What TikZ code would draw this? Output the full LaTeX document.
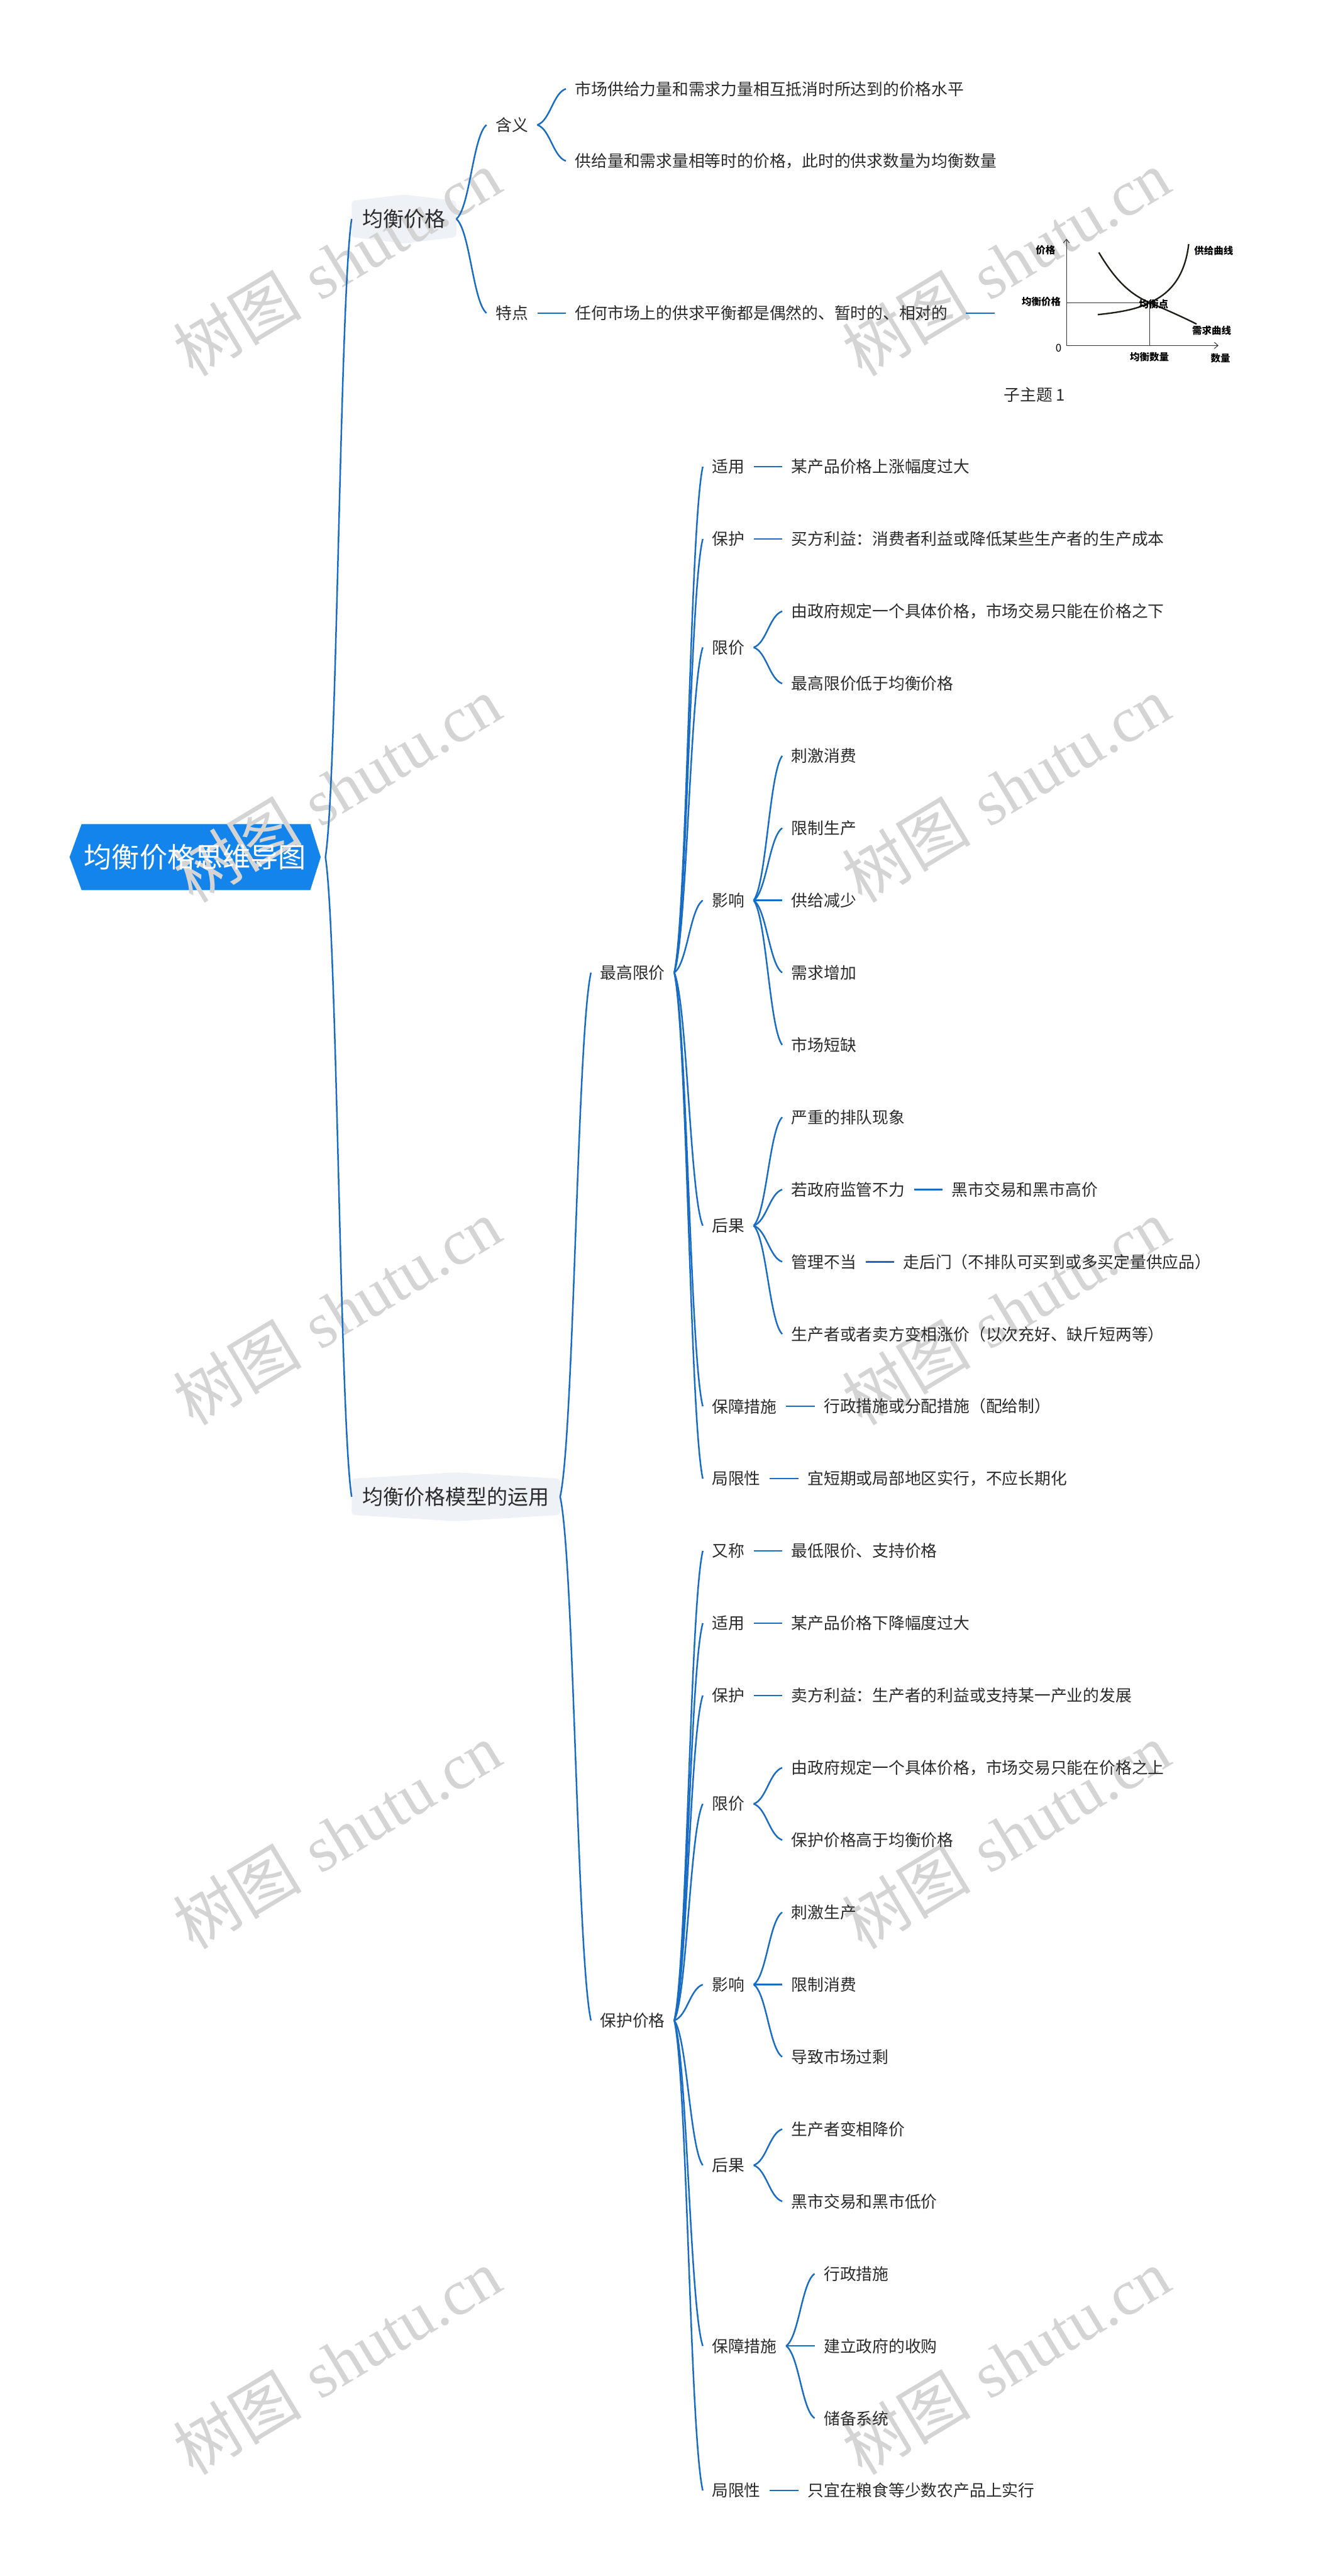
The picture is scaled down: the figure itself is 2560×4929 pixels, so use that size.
\documentclass[tikz,border=0pt]{standalone}
\usepackage{fontspec}
\newfontfamily\cjk{Noto Sans CJK SC}
\newfontfamily\wmserif{Liberation Serif}
\usetikzlibrary{calc,backgrounds,arrows.meta}
\definecolor{linkc}{HTML}{186CC4}
\definecolor{rootc}{HTML}{1284EC}
\definecolor{lonec}{HTML}{EEF1F5}
\definecolor{txtc}{HTML}{2B2B2B}
\definecolor{wmc}{HTML}{D4D4D4}
\definecolor{curvec}{HTML}{1E1E14}
\tikzset{
 link/.style={draw=linkc, line width=0.85pt},
 tn/.style={anchor=west, inner xsep=0.17cm, inner ysep=0.05cm, font=\cjk\fontsize{8.82}{10}\selectfont, text=txtc},
 lone/.style={anchor=west, inner xsep=0.2cm, inner ysep=0pt, minimum height=0.68cm, font=\cjk\fontsize{11.3}{13}\selectfont, text=txtc},
 gl/.style={font=\cjk\bfseries\fontsize{5.3}{6}\selectfont, text=black, inner sep=0pt},
 wm/.style={font=\fontsize{35}{40}\selectfont, text=wmc, rotate=31, inner sep=0pt},
 axisline/.style={draw=black!80, line width=0.35pt},
 curveline/.style={draw=curvec, line width=0.8pt},
}
\newcommand{\mmlink}[2]{\draw[link] let \p1=(#1), \p2=(#2) in (\p1) .. controls ({\x1+0.45*(\x2-\x1)},{\y1+0.12*(\y2-\y1)}) and ({\x2-0.45*(\x2-\x1)},{\y2-0.12*(\y2-\y1)}) .. (\p2);}
\newcommand{\mmline}[2]{\draw[link] (#1) -- (#2);}
\begin{document}
\begin{tikzpicture}[x=0.01cm,y=-0.01cm]
\useasboundingbox (0,0) rectangle (2560,4929);
\begin{pgfonlayer}{background}
\fill[white] (0,0) rectangle (2560,4929);
\end{pgfonlayer}

% watermarks
\foreach \wx/\wy [count=\i] in {645/503,1925/503,645/1510,1925/1510,645/2510,1925/2510,645/3513,1925/3513,645/4519,1925/4519}{
  \node[wm] (wm\i) at (\wx,\wy) {{\cjk 树图} {\wmserif shutu.cn}};
}

% root
\node[font=\cjk\fontsize{15.1}{17}\selectfont, text=white, minimum width=4.79cm, minimum height=1.25cm, inner sep=0pt] (root) at (373.5,1640) {均衡价格思维导图};
\begin{pgfonlayer}{background}
\fill[rootc] ([xshift=0.23cm]root.north west) -- ([xshift=-0.2cm]root.north east) -- (root.east) -- ([xshift=-0.2cm]root.south east) -- ([xshift=0.23cm]root.south west) -- (root.west) -- cycle;
\end{pgfonlayer}
\coordinate (rootP) at ([xshift=0.09cm]root.east);

% level 1
\node[lone] (l1a) at (673,419) {均衡价格};
\node[lone] (l1b) at (673,2864) {均衡价格模型的运用};
\begin{pgfonlayer}{background}
\foreach \n in {l1a,l1b}{
\fill[lonec, rounded corners=0.06cm] (\n.north west) -- ([yshift=0.12cm]\n.north) -- (\n.north east) -- (\n.south east) -- ([yshift=-0.12cm]\n.south) -- (\n.south west) -- cycle;
}
\end{pgfonlayer}
\mmlink{rootP}{l1a.west}
\mmlink{rootP}{l1b.west}

% top branch
\node[tn] (hy) at (931,239) {含义};
\node[tn] (td) at (931,599) {特点};
\node[tn] (h1) at (1083,170) {市场供给力量和需求力量相互抵消时所达到的价格水平};
\node[tn] (h2) at (1083,308) {供给量和需求量相等时的价格，此时的供求数量为均衡数量};
\node[tn] (t1) at (1083,599) {任何市场上的供求平衡都是偶然的、暂时的、相对的};
\mmlink{l1a.east}{hy.west}
\mmlink{l1a.east}{td.west}
\mmlink{hy.east}{h1.west}
\mmlink{hy.east}{h2.west}
\mmline{td.east}{t1.west}
\node[anchor=west, minimum width=4.6cm, minimum height=2.5cm, inner sep=0pt] (img) at (1904,599) {};
\mmline{[xshift=0.16cm]t1.east}{img.west}

% graph
\draw[axisline, -{Straight Barb[length=0.07cm,width=0.12cm]}] (2041,661) -- (2041,457);
\draw[axisline, -{Straight Barb[length=0.07cm,width=0.12cm]}] (2041,661) -- (2332,661);
\draw[axisline] (2041,579) -- (2200,579) -- (2200,661);
\draw[curveline] (2103,483) .. controls (2135,537) and (2163,563) .. (2200,579) .. controls (2235,594) and (2262,606) .. (2290,620);
\draw[curveline] (2101,602) .. controls (2150,597) and (2180,590) .. (2200,579) .. controls (2240,562) and (2268,528) .. (2275,467);
\node[gl] (gpr) at (2001,478) {价格};
\node[gl] (geqp) at (1993,577) {均衡价格};
\node[font=\cjk\fontsize{5.8}{7}\selectfont, text=black, inner sep=0pt] (g0) at (2026,666) {0};
\node[gl] (geqq) at (2200,683) {均衡数量};
\node[gl] (gq) at (2336,685) {数量};
\node[gl] (gs) at (2323,480) {供给曲线};
\node[gl] (gd) at (2319,633) {需求曲线};
\node[gl] (ge) at (2208,582) {均衡点};
\node[tn, anchor=center, inner xsep=0pt] (sub1) at (1980,755) {子主题 1};

% second branch
\node[tn] (zg) at (1131,1861) {最高限价};
\node[tn] (bj) at (1131,3866) {保护价格};
\mmlink{l1b.east}{zg.west}
\mmlink{l1b.east}{bj.west}

% --- 最高限价 children
\node[tn] (a1) at (1345,893) {适用};
\node[tn] (a2) at (1345,1031.3) {保护};
\node[tn] (a3) at (1345,1238.75) {限价};
\node[tn] (a4) at (1345,1722.8) {影响};
\node[tn] (a5) at (1345,2345.15) {后果};
\node[tn] (a6) at (1345,2690.9) {保障措施};
\node[tn] (a7) at (1345,2829.2) {局限性};
\foreach \c in {a1,a2,a3,a4,a5,a6,a7}{\mmlink{zg.east}{\c.west}}

\node[tn] (a1c) at (1497,893) {某产品价格上涨幅度过大};
\mmline{a1.east}{a1c.west}
\node[tn] (a2c) at (1497,1031.3) {买方利益：消费者利益或降低某些生产者的生产成本};
\mmline{a2.east}{a2c.west}
\node[tn] (a3c1) at (1497,1169.6) {由政府规定一个具体价格，市场交易只能在价格之下};
\node[tn] (a3c2) at (1497,1307.9) {最高限价低于均衡价格};
\mmlink{a3.east}{a3c1.west}
\mmlink{a3.east}{a3c2.west}
\node[tn] (a4c1) at (1497,1446.2) {刺激消费};
\node[tn] (a4c2) at (1497,1584.5) {限制生产};
\node[tn] (a4c3) at (1497,1722.8) {供给减少};
\node[tn] (a4c4) at (1497,1861.1) {需求增加};
\node[tn] (a4c5) at (1497,1999.4) {市场短缺};
\foreach \c in {a4c1,a4c2,a4c3,a4c4,a4c5}{\mmlink{a4.east}{\c.west}}
\node[tn] (a5c1) at (1497,2137.7) {严重的排队现象};
\node[tn] (a5c2) at (1497,2276) {若政府监管不力};
\node[tn] (a5c3) at (1497,2414.3) {管理不当};
\node[tn] (a5c4) at (1497,2552.6) {生产者或者卖方变相涨价（以次充好、缺斤短两等）};
\foreach \c in {a5c1,a5c2,a5c3,a5c4}{\mmlink{a5.east}{\c.west}}
\node[tn] (a5c2c) at (1804,2276) {黑市交易和黑市高价};
\mmline{a5c2.east}{a5c2c.west}
\node[tn] (a5c3c) at (1711,2414.3) {走后门（不排队可买到或多买定量供应品）};
\mmline{a5c3.east}{a5c3c.west}
\node[tn] (a6c) at (1559,2690.9) {行政措施或分配措施（配给制）};
\mmline{a6.east}{a6c.west}
\node[tn] (a7c) at (1528,2829.2) {宜短期或局部地区实行，不应长期化};
\mmline{a7.east}{a7c.west}

% --- 保护价格 children
\node[tn] (b0) at (1345,2967.5) {又称};
\node[tn] (b1) at (1345,3105.8) {适用};
\node[tn] (b2) at (1345,3244.1) {保护};
\node[tn] (b3) at (1345,3451.55) {限价};
\node[tn] (b4) at (1345,3797.3) {影响};
\node[tn] (b5) at (1345,4143.05) {后果};
\node[tn] (b6) at (1345,4488.8) {保障措施};
\node[tn] (b7) at (1345,4765.4) {局限性};
\foreach \c in {b0,b1,b2,b3,b4,b5,b6,b7}{\mmlink{bj.east}{\c.west}}

\node[tn] (b0c) at (1497,2967.5) {最低限价、支持价格};
\mmline{b0.east}{b0c.west}
\node[tn] (b1c) at (1497,3105.8) {某产品价格下降幅度过大};
\mmline{b1.east}{b1c.west}
\node[tn] (b2c) at (1497,3244.1) {卖方利益：生产者的利益或支持某一产业的发展};
\mmline{b2.east}{b2c.west}
\node[tn] (b3c1) at (1497,3382.4) {由政府规定一个具体价格，市场交易只能在价格之上};
\node[tn] (b3c2) at (1497,3520.7) {保护价格高于均衡价格};
\mmlink{b3.east}{b3c1.west}
\mmlink{b3.east}{b3c2.west}
\node[tn] (b4c1) at (1497,3659) {刺激生产};
\node[tn] (b4c2) at (1497,3797.3) {限制消费};
\node[tn] (b4c3) at (1497,3935.6) {导致市场过剩};
\foreach \c in {b4c1,b4c2,b4c3}{\mmlink{b4.east}{\c.west}}
\node[tn] (b5c1) at (1497,4073.9) {生产者变相降价};
\node[tn] (b5c2) at (1497,4212.2) {黑市交易和黑市低价};
\foreach \c in {b5c1,b5c2}{\mmlink{b5.east}{\c.west}}
\node[tn] (b6c1) at (1559,4350.5) {行政措施};
\node[tn] (b6c2) at (1559,4488.8) {建立政府的收购};
\node[tn] (b6c3) at (1559,4627.1) {储备系统};
\foreach \c in {b6c1,b6c2,b6c3}{\mmlink{b6.east}{\c.west}}
\node[tn] (b7c) at (1528,4765.4) {只宜在粮食等少数农产品上实行};
\mmline{b7.east}{b7c.west}
\end{tikzpicture}
\end{document}
